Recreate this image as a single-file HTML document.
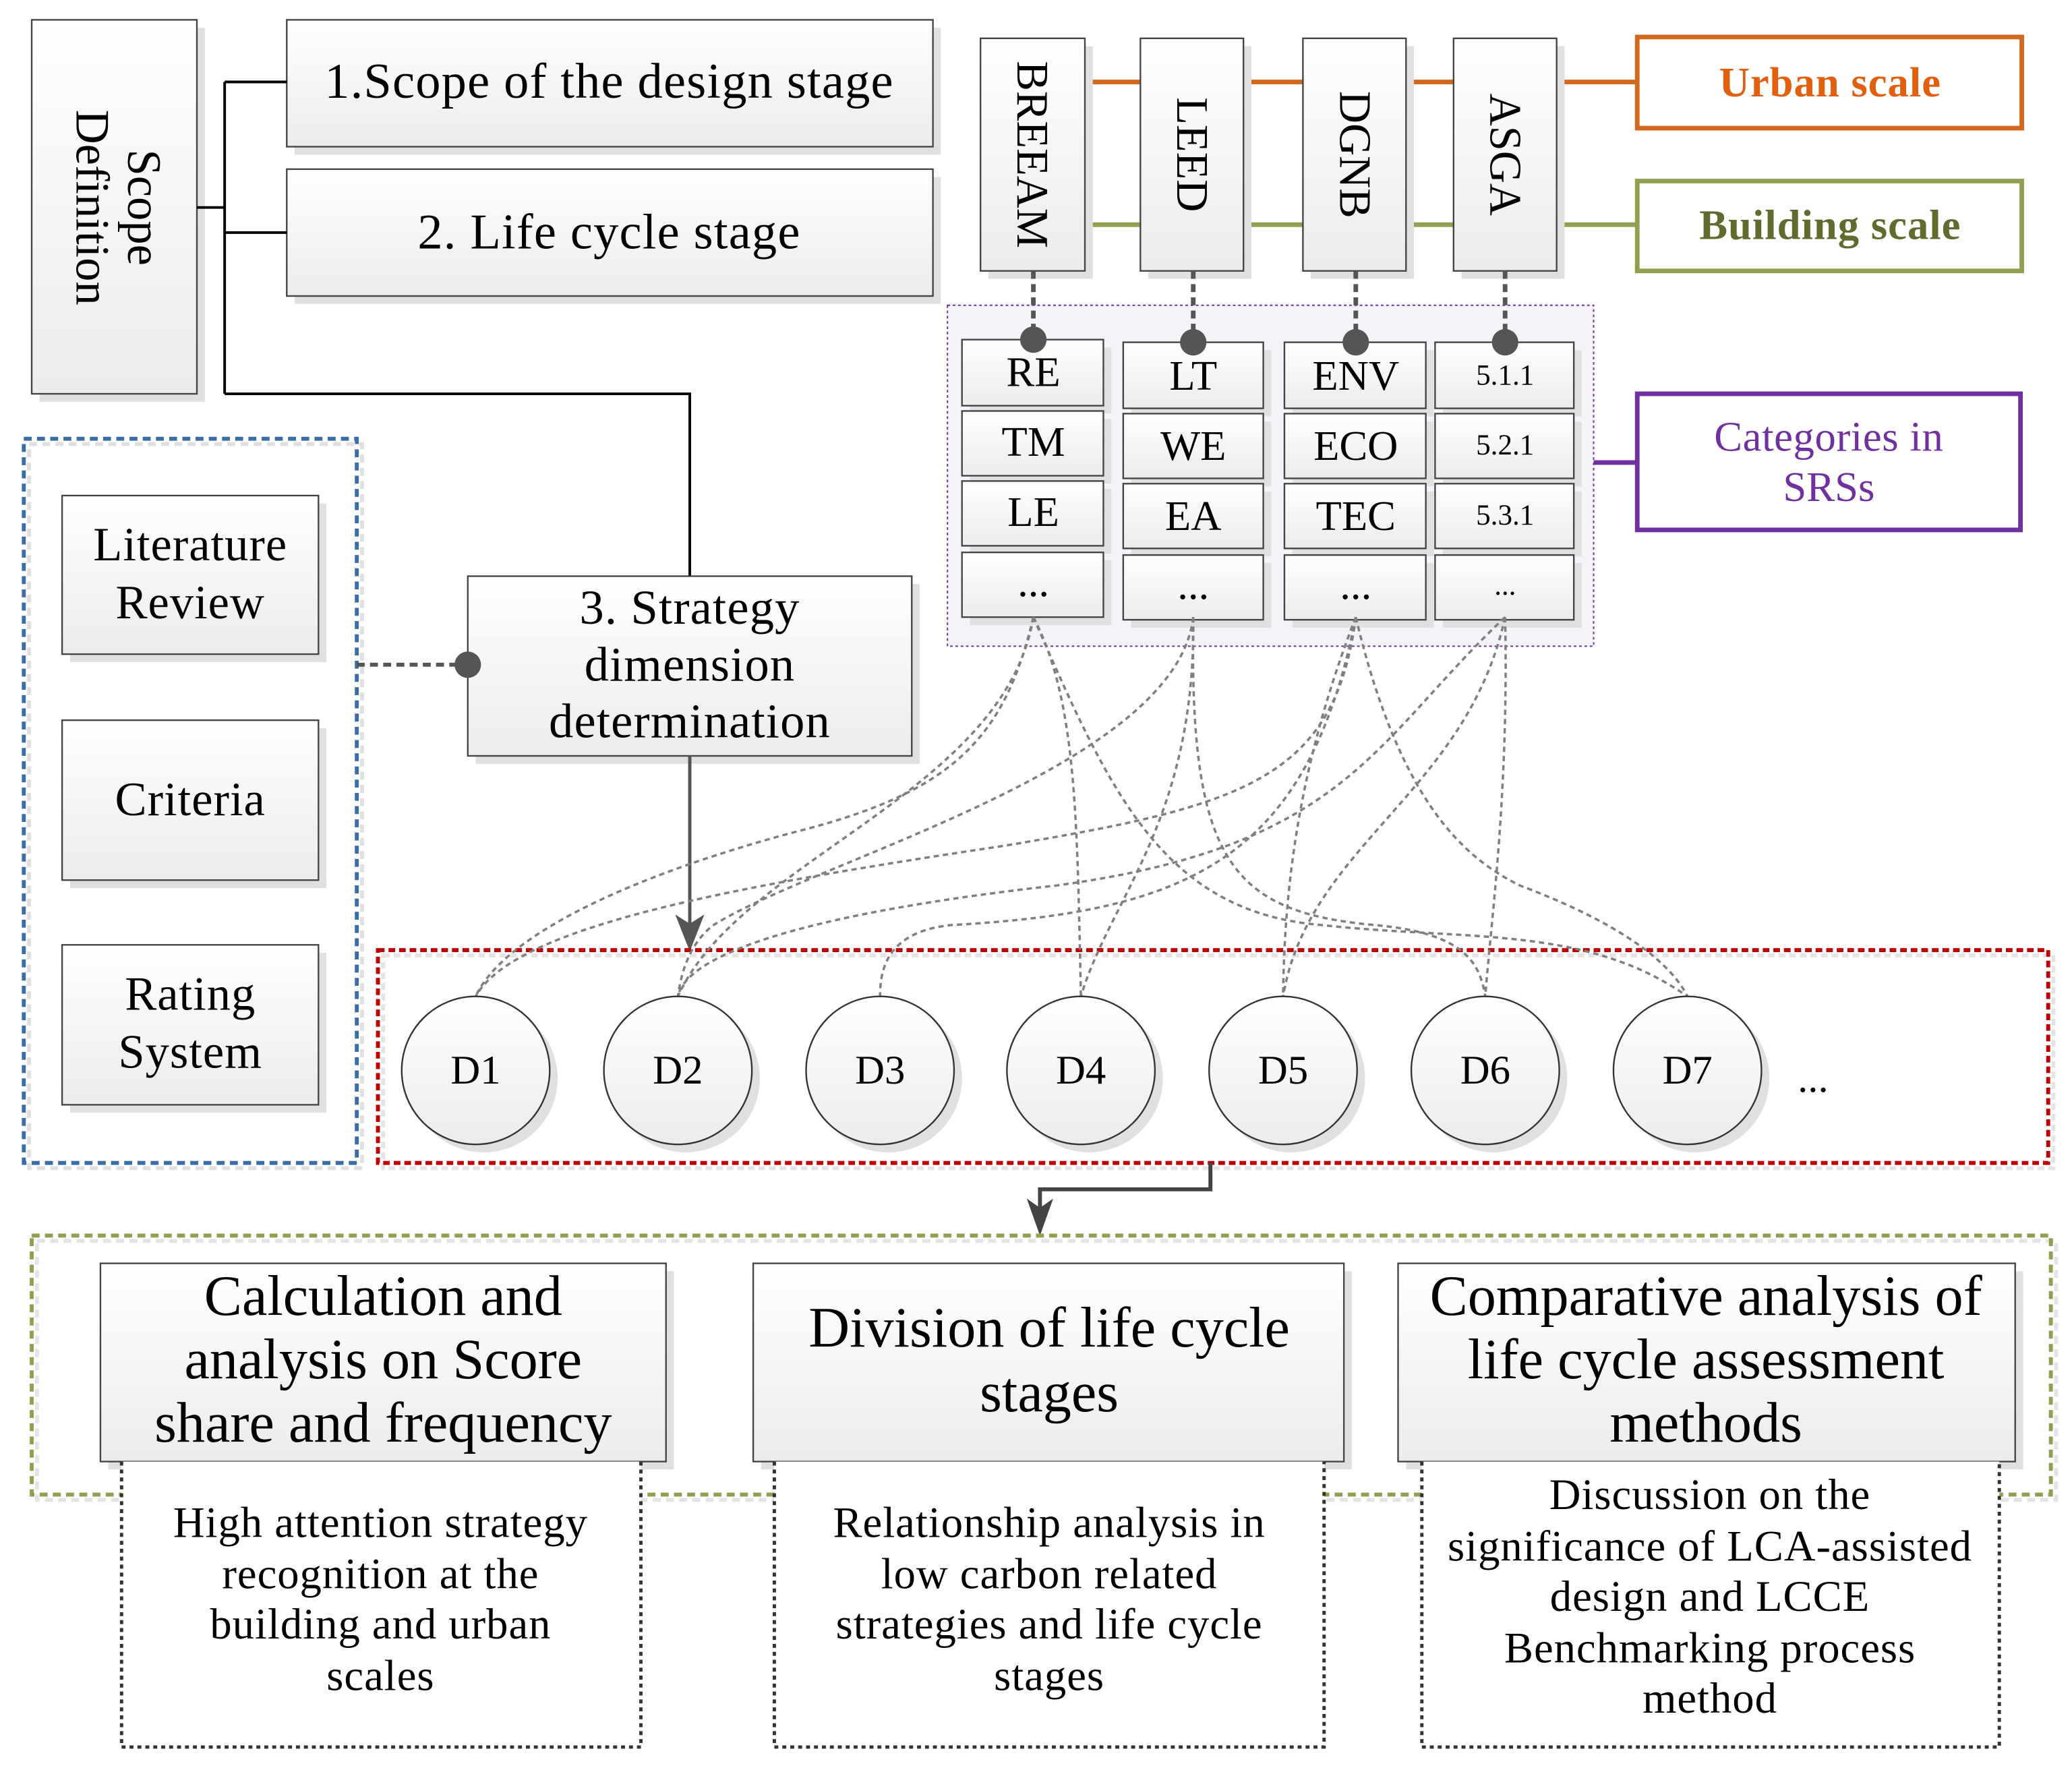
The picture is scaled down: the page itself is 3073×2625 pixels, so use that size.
<!DOCTYPE html>
<html><head><meta charset="utf-8"><style>
html,body{margin:0;padding:0;background:#fff;}
svg{display:block;}
text{font-family:"Liberation Serif",serif;fill:#000;}
</style></head><body>
<svg width="3073" height="2625" viewBox="0 0 1568 1339.4" xmlns="http://www.w3.org/2000/svg">
<defs>
<linearGradient id="g" x1="0" y1="0" x2="0" y2="1"><stop offset="0" stop-color="#ffffff"/><stop offset="1" stop-color="#ececec"/></linearGradient>
</defs>

<!-- Scope Definition -->
<rect x="30" y="21" width="125" height="283" fill="#e0e0e0"/>
<rect x="24" y="15" width="125" height="283" fill="url(#g)" stroke="#444" stroke-width="1.2"/>
<text transform="translate(87,157) rotate(90)" text-anchor="middle" font-size="36"><tspan x="0" y="-10">Scope</tspan><tspan x="0" y="29">Definition</tspan></text>

<rect x="223" y="21" width="489" height="96" fill="#e0e0e0"/>
<rect x="217" y="15" width="489" height="96" fill="url(#g)" stroke="#444" stroke-width="1.2"/>
<text x="461" y="74" text-anchor="middle" font-size="38" letter-spacing="0.6">1.Scope of the design stage</text>
<rect x="223" y="134" width="489" height="96" fill="#e0e0e0"/>
<rect x="217" y="128" width="489" height="96" fill="url(#g)" stroke="#444" stroke-width="1.2"/>
<text x="461" y="188" text-anchor="middle" font-size="38" letter-spacing="0.6">2. Life cycle stage</text>

<path d="M149,157 H170 M170,62 V298 M170,62 H217 M170,176 H217 M170,298 H522 V436" fill="none" stroke="#000" stroke-width="2"/>

<!-- Box3 -->
<rect x="360" y="442" width="336" height="136" fill="#e0e0e0"/>
<rect x="354" y="436" width="336" height="136" fill="url(#g)" stroke="#444" stroke-width="1.2"/>
<g font-size="37" text-anchor="middle" letter-spacing="0.6">
<text x="522" y="472">3. Strategy</text>
<text x="522" y="515">dimension</text>
<text x="522" y="558">determination</text>
</g>
<line x1="522" y1="572" x2="522" y2="700" stroke="#555" stroke-width="2.5"/>
<path d="M511,692 L522,720 L533,692 L522,699 Z" fill="#555"/>

<!-- Blue dashed -->
<rect x="22" y="336" width="252" height="548" fill="none" stroke="#e0e0e0" stroke-width="3" stroke-dasharray="6,4"/>
<rect x="18" y="332" width="252" height="548" fill="none" stroke="#3a6ea5" stroke-width="3" stroke-dasharray="6,4"/>
<g font-size="36" text-anchor="middle" letter-spacing="0.5">
<rect x="53" y="381" width="194" height="120" fill="#e0e0e0"/>
<rect x="47" y="375" width="194" height="120" fill="url(#g)" stroke="#444" stroke-width="1.2"/>
<text x="144" y="424">Literature</text><text x="144" y="468">Review</text>
<rect x="53" y="551" width="194" height="121" fill="#e0e0e0"/>
<rect x="47" y="545" width="194" height="121" fill="url(#g)" stroke="#444" stroke-width="1.2"/>
<text x="144" y="617">Criteria</text>
<rect x="53" y="721" width="194" height="121" fill="#e0e0e0"/>
<rect x="47" y="715" width="194" height="121" fill="url(#g)" stroke="#444" stroke-width="1.2"/>
<text x="144" y="764">Rating</text><text x="144" y="808">System</text>
</g>
<line x1="270" y1="503" x2="350" y2="503" stroke="#555" stroke-width="3" stroke-dasharray="6,4"/>
<circle cx="354" cy="503" r="10" fill="#555"/>

<!-- Standards -->
<g stroke-width="3.5">
<line x1="821" y1="62" x2="1239" y2="62" stroke="#d2691e"/>
<line x1="821" y1="170" x2="1239" y2="170" stroke="#8fa050"/>
</g>
<g>
<rect x="748" y="35" width="79" height="176" fill="#e0e0e0"/>
<rect x="742" y="29" width="79" height="176" fill="url(#g)" stroke="#444" stroke-width="1.2"/>
<rect x="869" y="35" width="78" height="176" fill="#e0e0e0"/>
<rect x="863" y="29" width="78" height="176" fill="url(#g)" stroke="#444" stroke-width="1.2"/>
<rect x="992" y="35" width="78" height="176" fill="#e0e0e0"/>
<rect x="986" y="29" width="78" height="176" fill="url(#g)" stroke="#444" stroke-width="1.2"/>
<rect x="1106" y="35" width="78" height="176" fill="#e0e0e0"/>
<rect x="1100" y="29" width="78" height="176" fill="url(#g)" stroke="#444" stroke-width="1.2"/>
</g>
<g font-size="34" text-anchor="middle">
<text transform="translate(770,117) rotate(90)">BREEAM</text>
<text transform="translate(891,117) rotate(90)">LEED</text>
<text transform="translate(1014,117) rotate(90)">DGNB</text>
<text transform="translate(1128,117) rotate(90)">ASGA</text>
</g>
<rect x="1239" y="28" width="291" height="69" fill="#fff" stroke="#d2691e" stroke-width="3.5"/>
<text x="1385" y="73" text-anchor="middle" font-size="32" font-weight="bold" letter-spacing="0.5" style="fill:#e0600f">Urban scale</text>
<rect x="1239" y="137" width="291" height="68" fill="#fff" stroke="#8fa050" stroke-width="3.5"/>
<text x="1385" y="181" text-anchor="middle" font-size="32" font-weight="bold" letter-spacing="0.5" style="fill:#5f6b2f">Building scale</text>

<!-- Categories container -->
<rect x="717" y="231" width="489" height="258" fill="#f3f3f8" stroke="#7030a0" stroke-width="1" stroke-dasharray="2,2"/>
<g font-size="32" text-anchor="middle">
<rect x="734" y="263" width="107" height="50" fill="#e0e0e0"/><rect x="728" y="257" width="107" height="50" fill="url(#g)" stroke="#444" stroke-width="1.2"/><text x="782" y="292">RE</text>
<rect x="734" y="317" width="107" height="49" fill="#e0e0e0"/><rect x="728" y="311" width="107" height="49" fill="url(#g)" stroke="#444" stroke-width="1.2"/><text x="782" y="345">TM</text>
<rect x="734" y="370" width="107" height="49" fill="#e0e0e0"/><rect x="728" y="364" width="107" height="49" fill="url(#g)" stroke="#444" stroke-width="1.2"/><text x="782" y="398">LE</text>
<rect x="734" y="424" width="107" height="49" fill="#e0e0e0"/><rect x="728" y="418" width="107" height="49" fill="url(#g)" stroke="#444" stroke-width="1.2"/><text x="782" y="451">...</text>
<rect x="856" y="265" width="106" height="50" fill="#e0e0e0"/><rect x="850" y="259" width="106" height="50" fill="url(#g)" stroke="#444" stroke-width="1.2"/><text x="903" y="295">LT</text>
<rect x="856" y="319" width="106" height="49" fill="#e0e0e0"/><rect x="850" y="313" width="106" height="49" fill="url(#g)" stroke="#444" stroke-width="1.2"/><text x="903" y="348">WE</text>
<rect x="856" y="372" width="106" height="49" fill="#e0e0e0"/><rect x="850" y="366" width="106" height="49" fill="url(#g)" stroke="#444" stroke-width="1.2"/><text x="903" y="401">EA</text>
<rect x="856" y="426" width="106" height="49" fill="#e0e0e0"/><rect x="850" y="420" width="106" height="49" fill="url(#g)" stroke="#444" stroke-width="1.2"/><text x="903" y="453">...</text>
<rect x="978" y="265" width="107" height="50" fill="#e0e0e0"/><rect x="972" y="259" width="107" height="50" fill="url(#g)" stroke="#444" stroke-width="1.2"/><text x="1026" y="295">ENV</text>
<rect x="978" y="319" width="107" height="49" fill="#e0e0e0"/><rect x="972" y="313" width="107" height="49" fill="url(#g)" stroke="#444" stroke-width="1.2"/><text x="1026" y="348">ECO</text>
<rect x="978" y="372" width="107" height="49" fill="#e0e0e0"/><rect x="972" y="366" width="107" height="49" fill="url(#g)" stroke="#444" stroke-width="1.2"/><text x="1026" y="401">TEC</text>
<rect x="978" y="426" width="107" height="49" fill="#e0e0e0"/><rect x="972" y="420" width="107" height="49" fill="url(#g)" stroke="#444" stroke-width="1.2"/><text x="1026" y="453">...</text>
<g font-size="22">
<rect x="1092" y="265" width="105" height="50" fill="#e0e0e0"/><rect x="1086" y="259" width="105" height="50" fill="url(#g)" stroke="#444" stroke-width="1.2"/><text x="1139" y="291">5.1.1</text>
<rect x="1092" y="319" width="105" height="49" fill="#e0e0e0"/><rect x="1086" y="313" width="105" height="49" fill="url(#g)" stroke="#444" stroke-width="1.2"/><text x="1139" y="344">5.2.1</text>
<rect x="1092" y="372" width="105" height="49" fill="#e0e0e0"/><rect x="1086" y="366" width="105" height="49" fill="url(#g)" stroke="#444" stroke-width="1.2"/><text x="1139" y="397">5.3.1</text>
<rect x="1092" y="426" width="105" height="49" fill="#e0e0e0"/><rect x="1086" y="420" width="105" height="49" fill="url(#g)" stroke="#444" stroke-width="1.2"/><text x="1139" y="450">...</text>
</g>
</g>
<g stroke="#555" stroke-width="3.5" stroke-dasharray="6,4">
<line x1="782" y1="205" x2="782" y2="255"/><line x1="903" y1="205" x2="903" y2="257"/>
<line x1="1026" y1="205" x2="1026" y2="257"/><line x1="1139" y1="205" x2="1139" y2="257"/>
</g>
<g fill="#555"><circle cx="782" cy="257" r="10"/><circle cx="903" cy="259" r="10"/><circle cx="1026" cy="259" r="10"/><circle cx="1139" cy="259" r="10"/></g>

<line x1="1206" y1="350" x2="1239" y2="350" stroke="#7030a0" stroke-width="3.5"/>
<rect x="1239" y="298" width="290" height="103" fill="#fff" stroke="#7030a0" stroke-width="3.5"/>
<text x="1384" y="341" text-anchor="middle" font-size="32" letter-spacing="0.3" style="fill:#7030a0">Categories in</text>
<text x="1384" y="379" text-anchor="middle" font-size="32" style="fill:#7030a0">SRSs</text>

<!-- Red dashed box -->
<rect x="290" y="723" width="1264" height="161" fill="none" stroke="#e4e4e4" stroke-width="3" stroke-dasharray="5,3"/>
<rect x="286" y="719" width="1264" height="161" fill="none" stroke="#c00000" stroke-width="3" stroke-dasharray="5,3"/>

<!-- curves -->
<g fill="none" stroke="#808080" stroke-width="1.8" stroke-dasharray="4,3">
<path d="M782,467 C760,560 720,600 600,630 C470,665 380,710 360,754"/>
<path d="M782,467 C760,600 560,650 513,754"/>
<path d="M782,467 C815,530 815,620 818,754"/>
<path d="M782,467 C840,600 880,690 1000,700 C1110,712 1200,700 1277,754"/>
<path d="M903,467 C890,580 620,650 540,700 C520,715 515,740 513,754"/>
<path d="M903,467 C905,620 840,680 818,754"/>
<path d="M903,467 C900,650 930,690 1040,700 C1110,706 1120,730 1124,754"/>
<path d="M1026,467 C1010,590 940,610 760,640 C560,670 390,700 360,754"/>
<path d="M1026,467 C990,650 900,690 720,700 C670,705 666,735 666,754"/>
<path d="M1026,467 C990,560 972,650 971,754"/>
<path d="M1026,467 C1060,610 1110,650 1150,670 C1230,700 1265,730 1277,754"/>
<path d="M1139,467 C1040,560 1020,640 800,670 C620,690 520,720 513,754"/>
<path d="M1139,467 C1110,600 990,640 971,754"/>
<path d="M1139,467 C1142,600 1128,700 1124,754"/>
</g>

<!-- circles -->
<g font-size="31" text-anchor="middle">
<g fill="#e0e0e0"><circle cx="366" cy="816" r="56"/><circle cx="519" cy="816" r="56"/><circle cx="672" cy="816" r="56"/><circle cx="824" cy="816" r="56"/><circle cx="977" cy="816" r="56"/><circle cx="1130" cy="816" r="56"/><circle cx="1283" cy="816" r="56"/></g>
<g fill="url(#g)" stroke="#333" stroke-width="1.2"><circle cx="360" cy="810" r="56"/><circle cx="513" cy="810" r="56"/><circle cx="666" cy="810" r="56"/><circle cx="818" cy="810" r="56"/><circle cx="971" cy="810" r="56"/><circle cx="1124" cy="810" r="56"/><circle cx="1277" cy="810" r="56"/></g>
<text x="360" y="820">D1</text><text x="513" y="820">D2</text><text x="666" y="820">D3</text><text x="818" y="820">D4</text><text x="971" y="820">D5</text><text x="1124" y="820">D6</text><text x="1277" y="820">D7</text>
<text x="1372" y="826">...</text>
</g>

<!-- elbow arrow -->
<path d="M916,880 V900 H787 V915" fill="none" stroke="#444" stroke-width="3"/>
<path d="M777,907 L787,935 L797,907 L787,914 Z" fill="#444"/>

<!-- green dashed -->
<rect x="28" y="939" width="1528" height="196" fill="none" stroke="#e4e4e4" stroke-width="3" stroke-dasharray="6,4"/>
<rect x="24" y="935" width="1528" height="196" fill="none" stroke="#8fa050" stroke-width="3" stroke-dasharray="6,4"/>

<!-- bottom header boxes -->
<g font-size="43" text-anchor="middle">
<rect x="82" y="962" width="428" height="150" fill="#e0e0e0"/>
<rect x="76" y="956" width="428" height="150" fill="url(#g)" stroke="#444" stroke-width="1.2"/>
<text x="290" y="995">Calculation and</text><text x="290" y="1043">analysis on Score</text><text x="290" y="1091">share and frequency</text>
<rect x="576" y="962" width="447" height="150" fill="#e0e0e0"/>
<rect x="570" y="956" width="447" height="150" fill="url(#g)" stroke="#444" stroke-width="1.2"/>
<text x="794" y="1019">Division of life cycle</text><text x="794" y="1068">stages</text>
<rect x="1064" y="962" width="467" height="150" fill="#e0e0e0"/>
<rect x="1058" y="956" width="467" height="150" fill="url(#g)" stroke="#444" stroke-width="1.2"/>
<text x="1291" y="995">Comparative analysis of</text><text x="1291" y="1043">life cycle assessment</text><text x="1291" y="1091">methods</text>
</g>

<!-- dotted description boxes -->
<g fill="#fff" stroke="#333" stroke-width="2.5" stroke-dasharray="3,3">
<path d="M92,1106 V1322 H485 V1106"/>
<path d="M586,1106 V1322 H1002 V1106"/>
<path d="M1076,1106 V1322 H1513 V1106"/>
</g>
<g font-size="33" text-anchor="middle" letter-spacing="0.5">
<text x="288" y="1163">High attention strategy</text><text x="288" y="1202">recognition at the</text><text x="288" y="1240">building and urban</text><text x="288" y="1279">scales</text>
<text x="794" y="1163">Relationship analysis in</text><text x="794" y="1202">low carbon related</text><text x="794" y="1240">strategies and life cycle</text><text x="794" y="1279">stages</text>
<text x="1294" y="1142">Discussion on the</text><text x="1294" y="1181">significance of LCA-assisted</text><text x="1294" y="1219">design and LCCE</text><text x="1294" y="1258">Benchmarking process</text><text x="1294" y="1296">method</text>
</g>
</svg>
</body></html>
